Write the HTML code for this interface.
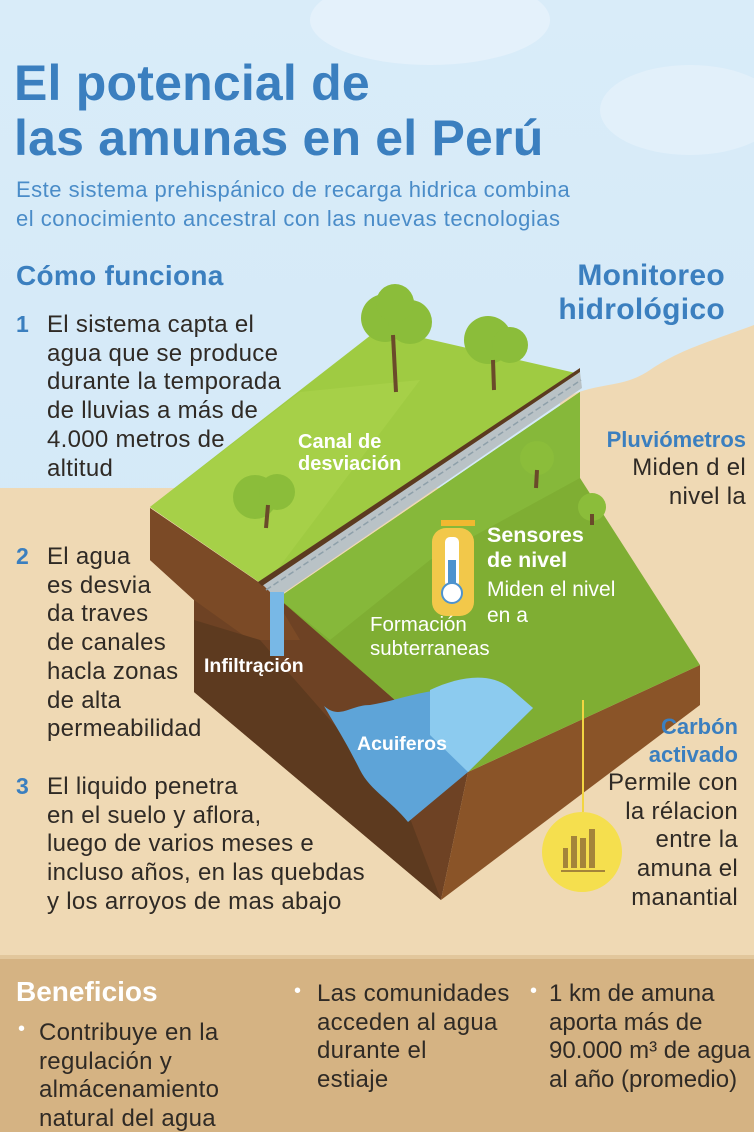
<!DOCTYPE html>
<html><head><meta charset="utf-8"><style>
body{margin:0;width:754px;height:1132px;overflow:hidden;position:relative;font-family:"Liberation Sans",sans-serif;}
svg{position:absolute;left:0;top:0}
.t{position:absolute;white-space:nowrap;}
.b{font-weight:bold}
.blue{color:#3b7fbf}
.w{color:#fff}
.body{font-size:24px;line-height:28.7px;color:#2f2a25;letter-spacing:0.3px}
.r{text-align:right}
</style></head><body>
<svg width="754" height="1132" viewBox="0 0 754 1132">
<defs>
<linearGradient id="sky" x1="0" y1="0" x2="0" y2="1"><stop offset="0" stop-color="#d9ecf9"/><stop offset="1" stop-color="#cfe6f5"/></linearGradient>
</defs>
<rect width="754" height="1132" fill="url(#sky)"/>
<ellipse cx="430" cy="20" rx="120" ry="45" fill="#e4f1fb"/>
<ellipse cx="690" cy="110" rx="90" ry="45" fill="#e2f0fa"/>
<path d="M0 488 L754 488 L754 960 L0 960Z" fill="#efd9b4"/>
<path d="M560 400 C600 380 620 390 650 370 C680 350 700 345 754 325 L754 500 L560 500Z" fill="#efd9b4"/>
<rect y="958" width="754" height="174" fill="#d5b383"/>
<rect y="955" width="754" height="4" fill="#e2c79c"/>
<polygon points="150,508 270,590 403,707 468,772 441,900 194,692 194,600 150,560" fill="#6e4224"/>
<polygon points="150,508 270,590 300,640 250,640 194,600 150,560" fill="#7b4a26"/>
<polygon points="194,620 260,640 330,720 403,800 441,900 194,692" fill="#5d3a1f"/>
<polygon points="468,772 700,665 700,705 441,900" fill="#8a5428"/>
<polygon points="278,598 580,392 580,478 700,665 468,772 403,707" fill="#7fae33"/>
<polygon points="278,598 580,392 580,478 430,560 330,640" fill="#86b83a"/>
<polygon points="150,507 380,328 580,374 265,586" fill="#9fcb42"/>
<polygon points="150,507 300,392 420,380 265,586" fill="#a6d048"/>
<polygon points="262,584 580,372 582,388 276,598" fill="#b9c2c6"/>
<polyline points="266,590 581,380" stroke="#8ea0aa" stroke-width="1.5" stroke-dasharray="6 3"/>
<polygon points="258,582 580,368 580,372 262,586" fill="#5c3a20"/>
<rect x="270" y="592" width="14" height="64" fill="#78b8e6"/>
<path d="M324,706 C340,720 350,705 370,705 C400,700 420,690 450,690 C470,680 490,676 510,690 L533,708 L468,772 L408,822 C390,800 370,790 360,770 C345,740 335,725 324,706Z" fill="#5ea4d8"/>
<path d="M430,690 C460,676 490,672 510,688 L533,708 L468,772 L430,735Z" fill="#8ccbef"/>
<g fill="#8bbd3a">
<circle cx="385" cy="318" r="24"/><circle cx="410" cy="322" r="22"/><circle cx="395" cy="303" r="19"/>
<circle cx="488" cy="340" r="24"/><circle cx="510" cy="345" r="18"/>
<circle cx="255" cy="497" r="22"/><circle cx="277" cy="492" r="18"/>
<circle cx="537" cy="458" r="17"/>
<circle cx="592" cy="507" r="14"/>
</g>
<g stroke="#6a4a2a" stroke-width="4" fill="none">
<path d="M396 392 L393 335"/><path d="M494 390 L493 360"/><path d="M266 528 L268 505"/><path d="M536 488 L537 470"/><path d="M592 525 L592 514"/>
</g>
<rect x="441" y="520" width="34" height="6" fill="#f0b830"/>
<rect x="432" y="528" width="42" height="88" rx="14" fill="#f2c84a"/>
<rect x="445" y="537" width="14" height="50" rx="5" fill="#fff"/>
<rect x="448" y="560" width="8" height="28" fill="#4d93cf"/>
<circle cx="452" cy="593" r="10" fill="#fff" stroke="#4d93cf" stroke-width="2"/>
<line x1="583" y1="700" x2="583" y2="812" stroke="#f2d542" stroke-width="2"/>
<circle cx="582" cy="852" r="40" fill="#f5df4e"/>
<g fill="#a4843a"><rect x="563" y="848" width="5" height="20"/><rect x="571" y="836" width="6" height="32"/><rect x="580" y="838" width="6" height="30"/><rect x="589" y="829" width="6" height="39"/><rect x="561" y="870" width="44" height="2"/></g>
</svg>

<div class="t b blue" style="left:14px;top:56px;font-size:50px;line-height:55px;letter-spacing:0.2px">El potencial de<br>las amunas en el Perú</div>
<div class="t blue" style="left:16px;top:175px;font-size:22px;line-height:29px;color:#4a8cc8;letter-spacing:0.5px">Este sistema prehispánico de recarga hidrica combina<br>el conocimiento ancestral con las nuevas tecnologias</div>

<div class="t b blue" style="left:16px;top:260px;font-size:28px;letter-spacing:0.3px">Cómo funciona</div>
<div class="t b blue" style="left:16px;top:311px;font-size:23px">1</div>
<div class="t body" style="left:47px;top:311px">El sistema capta el<br>agua que se produce<br>durante la temporada<br>de lluvias a más de<br>4.000 metros de<br>altitud</div>
<div class="t b blue" style="left:16px;top:543px;font-size:23px">2</div>
<div class="t body" style="left:47px;top:543px">El agua<br>es desvia<br>da traves<br>de canales<br>hacla zonas<br>de alta<br>permeabilidad</div>
<div class="t b blue" style="left:16px;top:773px;font-size:23px">3</div>
<div class="t body" style="left:47px;top:773px">El liquido penetra<br>en el suelo y aflora,<br>luego de varios meses e<br>incluso años, en las quebdas<br>y los arroyos de mas abajo</div>

<div class="t b blue r" style="right:29px;top:259px;font-size:30px;line-height:34px;letter-spacing:0.3px">Monitoreo<br>hidrológico</div>
<div class="t b blue r" style="right:8px;top:427px;font-size:22px">Pluviómetros</div>
<div class="t body r" style="right:8px;top:454px">Miden d el<br>nivel la</div>
<div class="t b blue r" style="right:16px;top:713px;font-size:22px;line-height:28px">Carbón<br>activado</div>
<div class="t body r" style="right:16px;top:769px">Permile con<br>la rélacion<br>entre la<br>amuna el<br>manantial</div>

<div class="t b w" style="left:298px;top:431px;font-size:20px;line-height:22px">Canal de<br>desviación</div>
<div class="t b w" style="left:487px;top:523px;font-size:21.5px;line-height:25px">Sensores<br>de nivel</div>
<div class="t w" style="left:487px;top:577px;font-size:21px;line-height:26px">Miden el nivel<br>en a</div>
<div class="t w" style="left:370px;top:613px;font-size:20.5px;line-height:24px">Formación<br>subterraneas</div>
<div class="t b w" style="left:204px;top:655px;font-size:19.5px">Infiltrąción</div>
<div class="t b w" style="left:357px;top:733px;font-size:19.5px">Acuiferos</div>

<div class="t b w" style="left:16px;top:976px;font-size:28px">Beneficios</div>
<div class="t w" style="left:18px;top:1018px;font-size:20px">•</div>
<div class="t body" style="left:39px;top:1019px">Contribuye en la<br>regulación y<br>almácenamiento<br>natural del agua</div>
<div class="t w" style="left:294px;top:980px;font-size:20px">•</div>
<div class="t body" style="left:317px;top:980px">Las comunidades<br>acceden al agua<br>durante el<br>estiaje</div>
<div class="t w" style="left:530px;top:980px;font-size:20px">•</div>
<div class="t body" style="left:549px;top:980px;letter-spacing:0">1 km de amuna<br>aporta más de<br>90.000 m³ de agua<br>al año (promedio)</div>
</body></html>
